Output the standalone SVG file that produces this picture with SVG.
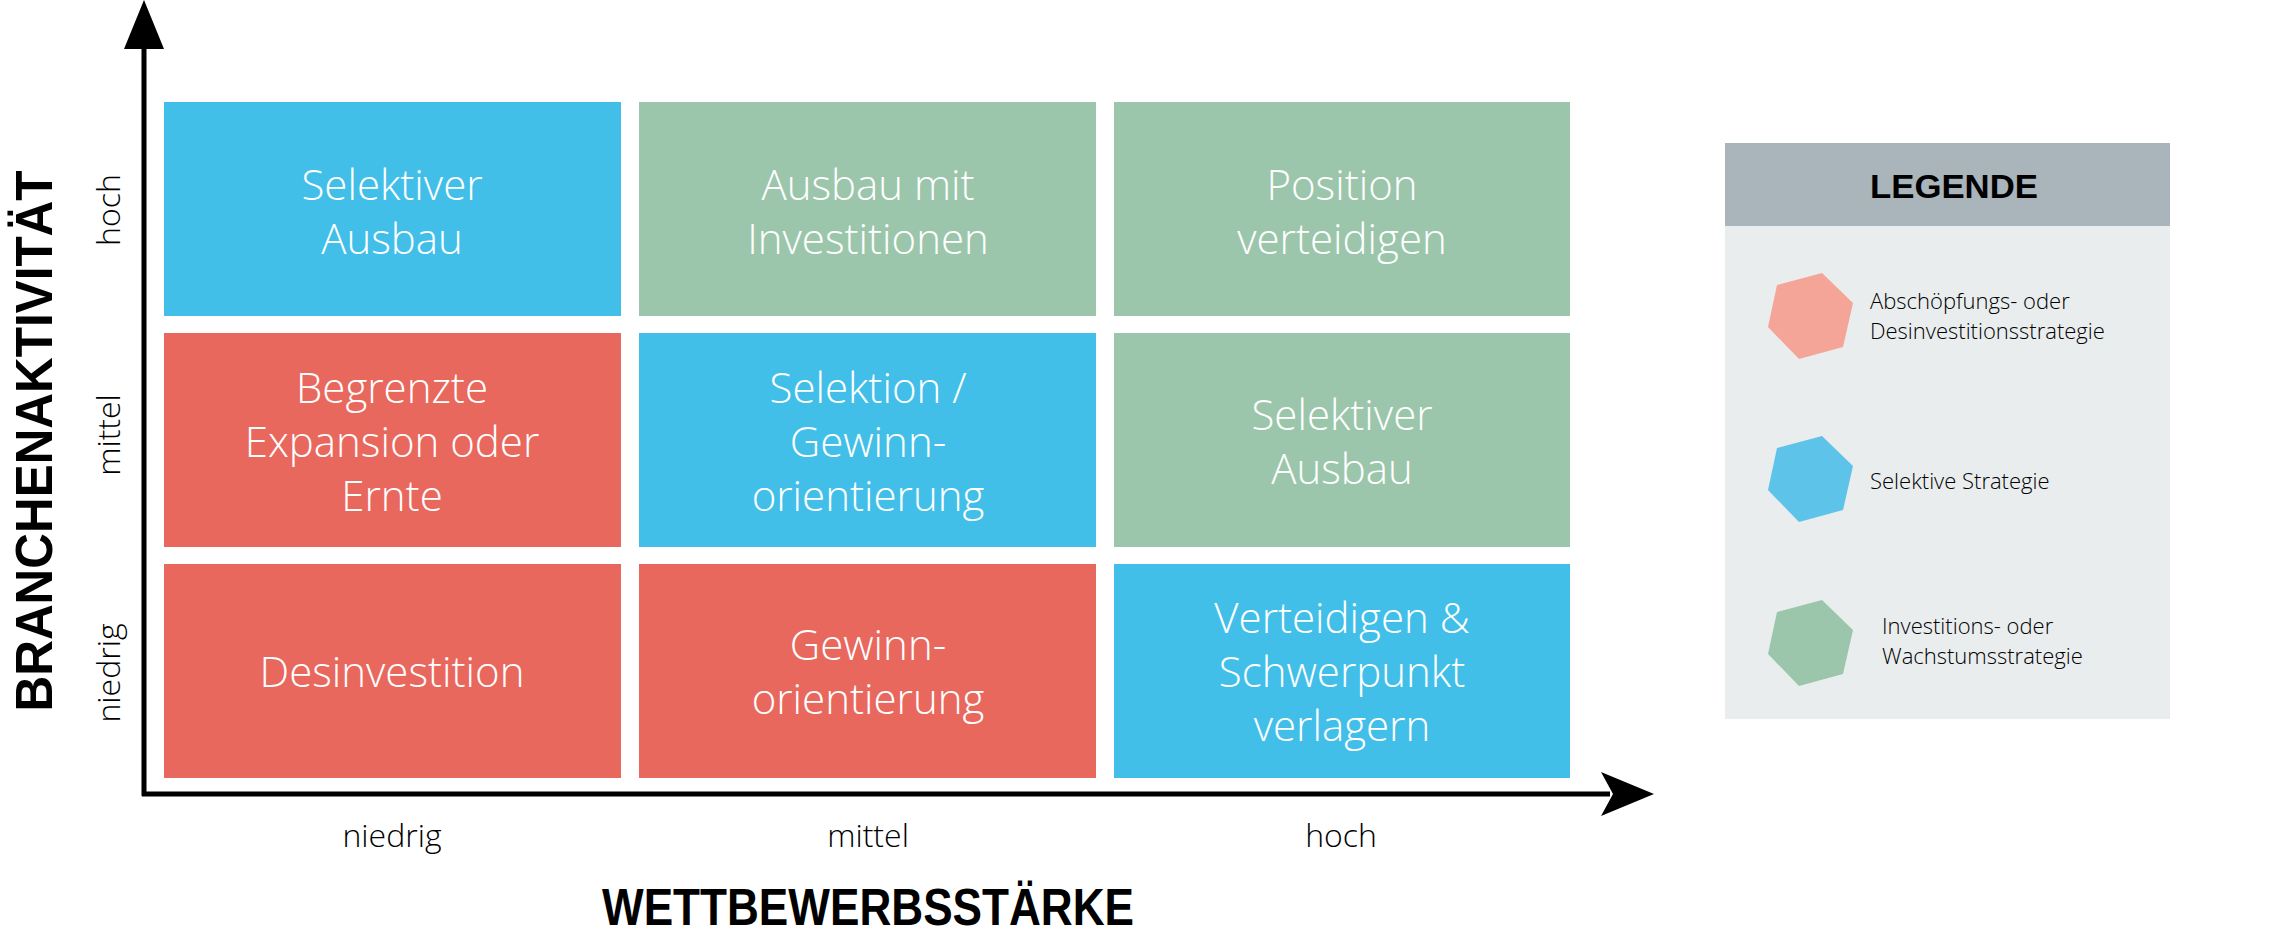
<svg xmlns="http://www.w3.org/2000/svg" width="2288" height="942" viewBox="0 0 2288 942">
<style>
.cell text{font-family:"Open Sans","Liberation Sans",sans-serif;font-weight:300;font-size:42px;fill:#fff;text-anchor:middle}
.b{fill:#42bfe8}.g{fill:#9cc6ab}.r{fill:#e9685e}
.lab{font-family:"Open Sans","Liberation Sans",sans-serif;font-weight:300;font-size:32px;fill:#000;text-anchor:middle}
.title{font-family:"Liberation Sans",sans-serif;font-weight:bold;font-size:52px;fill:#000}
.leg{font-family:"Open Sans","Liberation Sans",sans-serif;font-weight:300;font-size:22px;fill:#000}
</style>
<rect width="2288" height="942" fill="#fff"/>
<g id="connectors" stroke="#000" stroke-width="5" fill="none">
<line x1="144" y1="796" x2="144" y2="40"/>
<line x1="142" y1="794" x2="1610" y2="794"/>
<polygon points="144,0 124,49 164,49" fill="#000" stroke="none"/>
<polygon points="1654,794 1601,772 1613,794 1601,816" fill="#000" stroke="none"/>
</g>
<g id="c11" class="cell"><rect class="b" x="164" y="102" width="457" height="214"/><text x="392" y="200">Selektiver</text><text x="392" y="254">Ausbau</text></g>
<g id="c12" class="cell"><rect class="g" x="639" y="102" width="457" height="214"/><text x="868" y="200">Ausbau mit</text><text x="868" y="254">Investitionen</text></g>
<g id="c13" class="cell"><rect class="g" x="1114" y="102" width="456" height="214"/><text x="1342" y="200">Position</text><text x="1342" y="254">verteidigen</text></g>
<g id="c21" class="cell"><rect class="r" x="164" y="333" width="457" height="214"/><text x="392" y="403">Begrenzte</text><text x="392" y="457">Expansion oder</text><text x="392" y="511">Ernte</text></g>
<g id="c22" class="cell"><rect class="b" x="639" y="333" width="457" height="214"/><text x="868" y="403">Selektion /</text><text x="868" y="457">Gewinn-</text><text x="868" y="511">orientierung</text></g>
<g id="c23" class="cell"><rect class="g" x="1114" y="333" width="456" height="214"/><text x="1342" y="430">Selektiver</text><text x="1342" y="484">Ausbau</text></g>
<g id="c31" class="cell"><rect class="r" x="164" y="564" width="457" height="214"/><text x="392" y="687">Desinvestition</text></g>
<g id="c32" class="cell"><rect class="r" x="639" y="564" width="457" height="214"/><text x="868" y="660">Gewinn-</text><text x="868" y="714">orientierung</text></g>
<g id="c33" class="cell"><rect class="b" x="1114" y="564" width="456" height="214"/><text x="1342" y="633">Verteidigen &amp;</text><text x="1342" y="687">Schwerpunkt</text><text x="1342" y="741">verlagern</text></g>
<g id="xlabels">
<text class="lab" x="392" y="847">niedrig</text>
<text class="lab" x="868" y="847">mittel</text>
<text class="lab" x="1341" y="847">hoch</text>
<text class="title" x="868" y="925" text-anchor="middle" textLength="532" lengthAdjust="spacingAndGlyphs">WETTBEWERBSSTÄRKE</text>
</g>
<g id="ylabels">
<text class="lab" transform="translate(120,210) rotate(-90)">hoch</text>
<text class="lab" transform="translate(120,435) rotate(-90)">mittel</text>
<text class="lab" transform="translate(120,673) rotate(-90)">niedrig</text>
<text class="title" transform="translate(52,441) rotate(-90)" text-anchor="middle" textLength="541" lengthAdjust="spacingAndGlyphs">BRANCHENAKTIVITÄT</text>
</g>
<g id="legend">
<rect x="1725" y="226" width="445" height="493" fill="#e9edee"/>
<rect x="1725" y="143" width="445" height="83" fill="#a9b4bb"/>
<text x="1954" y="198" text-anchor="middle" font-family="Liberation Sans,sans-serif" font-weight="bold" font-size="34" textLength="168" lengthAdjust="spacingAndGlyphs">LEGENDE</text>
<polygon points="1777,285 1822,273 1853,303 1843,347 1799,359 1768,327" fill="#f4a597"/>
<polygon points="1777,448 1822,436 1853,466 1843,510 1799,522 1768,490" fill="#5ec3e8"/>
<polygon points="1777,612 1822,600 1853,630 1843,674 1799,686 1768,654" fill="#9cc6ab"/>
<text class="leg" x="1870" y="309">Abschöpfungs- oder</text>
<text class="leg" x="1870" y="339">Desinvestitionsstrategie</text>
<text class="leg" x="1870" y="489">Selektive Strategie</text>
<text class="leg" x="1882" y="634">Investitions- oder</text>
<text class="leg" x="1882" y="664">Wachstumsstrategie</text>
</g>
</svg>
